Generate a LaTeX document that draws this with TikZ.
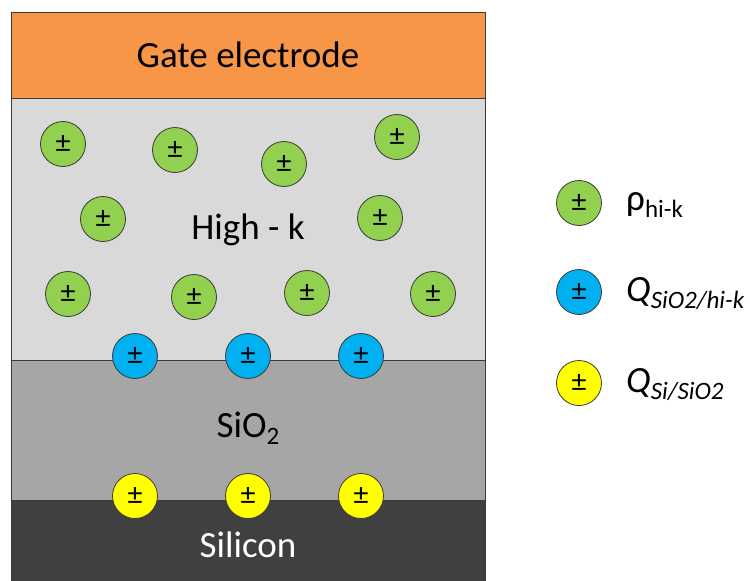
\documentclass[tikz,border=0pt]{standalone}
\usepackage{fontspec}
\setmainfont{Carlito}
\definecolor{gateor}{HTML}{F79646}
\definecolor{hik}{HTML}{D9D9D9}
\definecolor{sio}{HTML}{A6A6A6}
\definecolor{sil}{HTML}{404040}
\definecolor{chgreen}{HTML}{92D050}
\definecolor{chblue}{HTML}{00B0F0}
\definecolor{chyellow}{HTML}{FFFF00}
\definecolor{edge}{HTML}{3A3A3A}
\newcommand{\subtxt}[1]{\raisebox{-7pt}{\fontsize{25}{25}\selectfont #1}}
\begin{document}
\begin{tikzpicture}[x=1pt,y=-1pt,
  layer/.style={draw=edge,line width=1pt},
  lbl/.style={font=\fontsize{37}{37}\selectfont,inner sep=0pt},
  chg/.style={circle,draw=edge,line width=0.8pt,minimum size=45pt,inner sep=0pt,font=\fontsize{30}{30}\selectfont},
  green/.style={chg,fill=chgreen},
  blue/.style={chg,fill=chblue},
  yellow/.style={chg,fill=chyellow},
  leg/.style={anchor=west,inner sep=0pt,font=\fontsize{37}{37}\selectfont}]
\useasboundingbox (0,0) rectangle (750,581);
% layers
\fill[sil] (11,500) rectangle (485,581);
\draw[layer,fill=sio] (11,360) rectangle (485,500);
\draw[layer,fill=hik] (11,98) rectangle (485,360);
\draw[layer,fill=gateor] (11,12) rectangle (485,98);
\draw[layer] (11,581) -- (11,500) (485,581) -- (485,500);
% labels
\node[lbl] (gate) at (248,55) {Gate electrode};
\node[lbl] (hk) at (248,230) {High - k};
\node[lbl] (ox) at (248,428) {SiO\subtxt{2}};
\node[lbl,text=white] (si) at (248,545) {Silicon};
% green charges
\node[green] (g1) at (63,144) {±};
\node[green] (g2) at (175,150) {±};
\node[green] (g3) at (284,164) {±};
\node[green] (g4) at (397,137) {±};
\node[green] (g5) at (103,219) {±};
\node[green] (g6) at (380,218) {±};
\node[green] (g7) at (68,294) {±};
\node[green] (g8) at (194,297) {±};
\node[green] (g9) at (307,293) {±};
\node[green] (g10) at (433,294) {±};
% interface charges
\node[blue] (b1) at (135,356) {±};
\node[blue] (b2) at (248,356) {±};
\node[blue] (b3) at (361,356) {±};
\node[yellow] (y1) at (135,496) {±};
\node[yellow] (y2) at (248,496) {±};
\node[yellow] (y3) at (361,496) {±};
% legend
\node[green] (lg1) at (579,203) {±};
\node[blue] (lg2) at (579,292) {±};
\node[yellow] (lg3) at (579,383) {±};
\node[leg] (lt1) at (626,205) {ρ\subtxt{hi-k}};
\node[leg] (lt2) at (626,294) {\textit{Q}\subtxt{\itshape SiO2/hi-k}};
\node[leg] (lt3) at (626,385) {\textit{Q}\subtxt{\itshape Si/SiO2}};
\end{tikzpicture}
\end{document}
